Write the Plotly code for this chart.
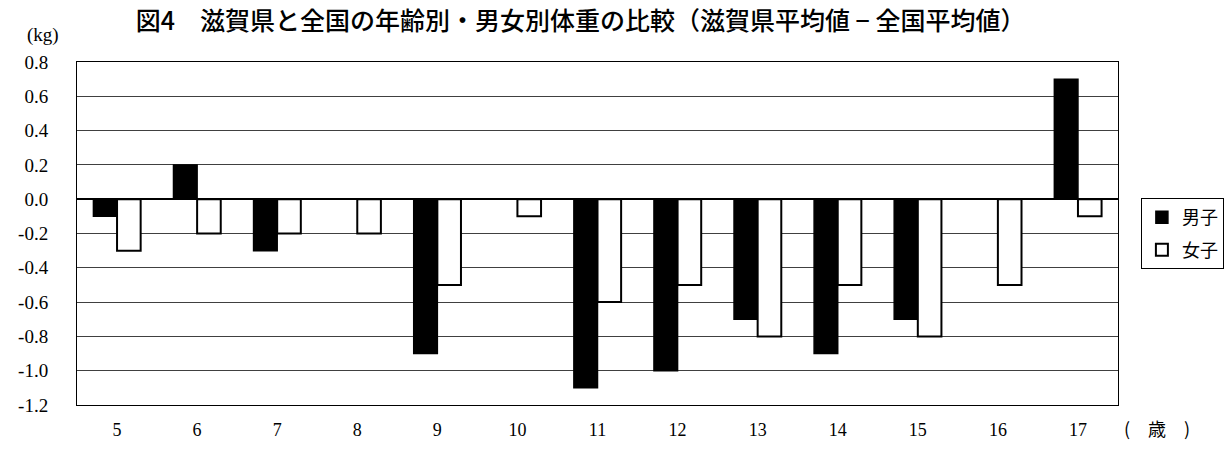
import plotly.graph_objects as go

ages = ["5", "6", "7", "8", "9", "10", "11", "12", "13", "14", "15", "16", "17"]
male = [-0.1, 0.2, -0.3, 0.0, -0.9, 0.0, -1.1, -1.0, -0.7, -0.9, -0.7, 0.0, 0.7]
female = [-0.3, -0.2, -0.2, -0.2, -0.5, -0.1, -0.6, -0.5, -0.8, -0.5, -0.8, -0.5, -0.1]
ytickvals = [0.8, 0.6, 0.4, 0.2, 0.0, -0.2, -0.4, -0.6, -0.8, -1.0, -1.2]
yticktext = ["0.8", "0.6", "0.4", "0.2", "0.0", "-0.2", "-0.4", "-0.6", "-0.8", "-1.0", "-1.2"]

serif = "Liberation Serif, DejaVu Serif, serif"
cjk = "Noto Sans CJK JP"

fig = go.Figure()
fig.add_trace(go.Bar(x=ages, y=male, name="男子", legendgroup="m",
                     marker=dict(color="black", line=dict(color="black", width=1.5))))
fig.add_trace(go.Bar(x=ages, y=female, name="女子", legendgroup="f",
                     marker=dict(color="white", line=dict(color="black", width=2))))

fig.update_layout(
    width=1230, height=451,
    margin=dict(l=77, r=112, t=62, b=46, autoexpand=False),
    paper_bgcolor="white", plot_bgcolor="white",
    barmode="group", bargap=0.41, bargroupgap=0,
    title=dict(text="図4　滋賀県と全国の年齢別・男女別体重の比較（滋賀県平均値 − 全国平均値）",
               x=0.472, xanchor="center", y=0.953, yanchor="middle",
               font=dict(family=cjk, size=25, color="black", weight=500)),
    showlegend=True,
    legend=dict(x=1.022, y=0.603, xanchor="left", yanchor="top",
                bordercolor="black", borderwidth=1, bgcolor="white",
                font=dict(family=cjk, size=18, color="black"),
                itemwidth=30, tracegroupgap=6),
    xaxis=dict(showline=True, linecolor="black", linewidth=1, mirror=True,
               ticks="", ticklabelstandoff=8,
               tickfont=dict(family=serif, size=18, color="black"),
               showgrid=False),
    yaxis=dict(range=[-1.2, 0.8], tickvals=ytickvals, ticktext=yticktext,
               showline=True, linecolor="black", linewidth=1, mirror=True,
               showgrid=True, gridcolor="#404040", gridwidth=1,
               zeroline=True, zerolinecolor="black", zerolinewidth=1.5,
               ticks="", ticklabelstandoff=24,
               tickfont=dict(family=serif, size=19, color="black")),
    annotations=[
        dict(text="(kg)", xref="paper", yref="paper", x=-0.033, y=1.079,
             xanchor="center", yanchor="middle", showarrow=False,
             font=dict(family=serif, size=19, color="black")),
        dict(text="(　歳　)", xref="paper", yref="paper", x=1.004, y=-0.067,
             xanchor="left", yanchor="middle", showarrow=False,
             font=dict(family=cjk, size=18, color="black")),
    ],
)

fig.write_html("out.html",
               config={"displayModeBar": False},
               post_script="document.body.style.margin='0';document.body.style.overflow='hidden';")
